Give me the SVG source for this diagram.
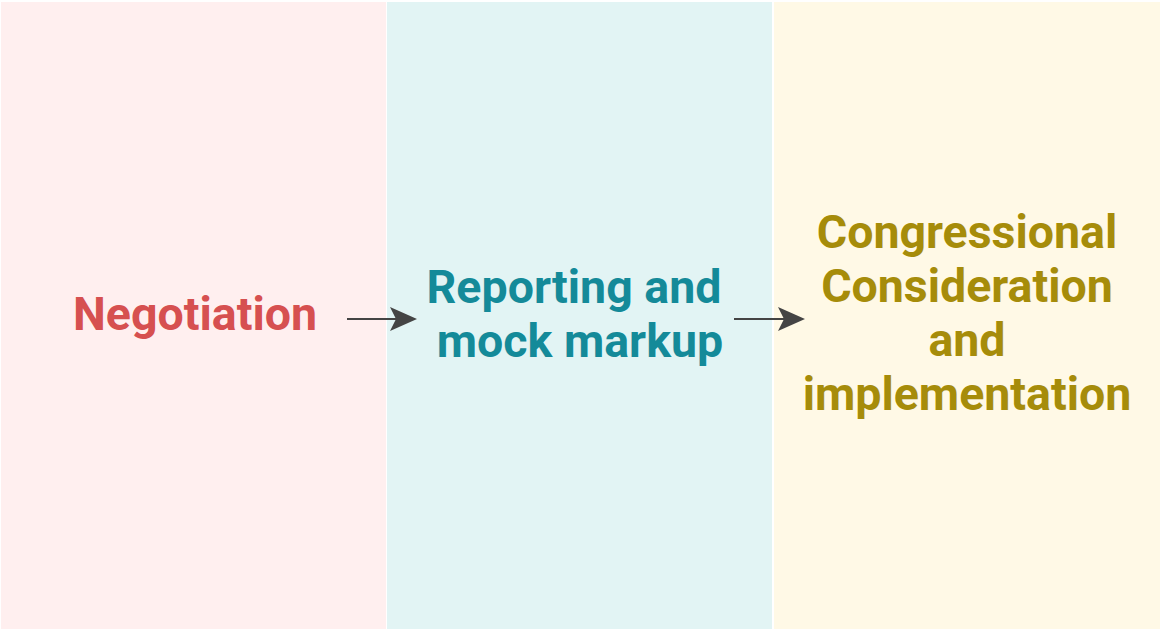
<svg xmlns="http://www.w3.org/2000/svg" width="1160" height="629" viewBox="0 0 1160 629">
<style>
.t{font-family:Roboto,"DejaVu Sans",sans-serif;font-weight:bold;font-size:46.5px;text-anchor:middle}
.c{stroke:#444444;stroke-width:2;fill:none}
.h{fill:#444444}
</style>
<rect width="1160" height="629" fill="#ffffff"/>
<g id="negotiation">
<rect x="1" y="2" width="385" height="627" fill="#FFEFEF"/>
<text class="t" x="195" y="330" fill="#D65050">Negotiation</text>
</g>
<g id="reporting">
<rect x="387" y="2" width="385" height="627" fill="#E2F4F4"/>
<text class="t" x="574" y="303" fill="#148A99">Reporting and</text>
<text class="t" x="580" y="357" fill="#148A99">mock markup</text>
</g>
<g id="congressional">
<rect x="774" y="2" width="386" height="627" fill="#FFF9E6"/>
<text class="t" x="967" y="248" fill="#A68C0A">Congressional</text>
<text class="t" x="967" y="302" fill="#A68C0A">Consideration</text>
<text class="t" x="967" y="356" fill="#A68C0A">and</text>
<text class="t" x="967" y="410" fill="#A68C0A">implementation</text>
</g>
<g id="connectors">
<line class="c" x1="347" y1="319" x2="410" y2="319"/>
<path class="h" d="M417,319 L390,307 L396,319 L390,331 Z"/>
<line class="c" x1="734" y1="319" x2="798" y2="319"/>
<path class="h" d="M805,319 L778,307 L784,319 L778,331 Z"/>
</g>
</svg>
